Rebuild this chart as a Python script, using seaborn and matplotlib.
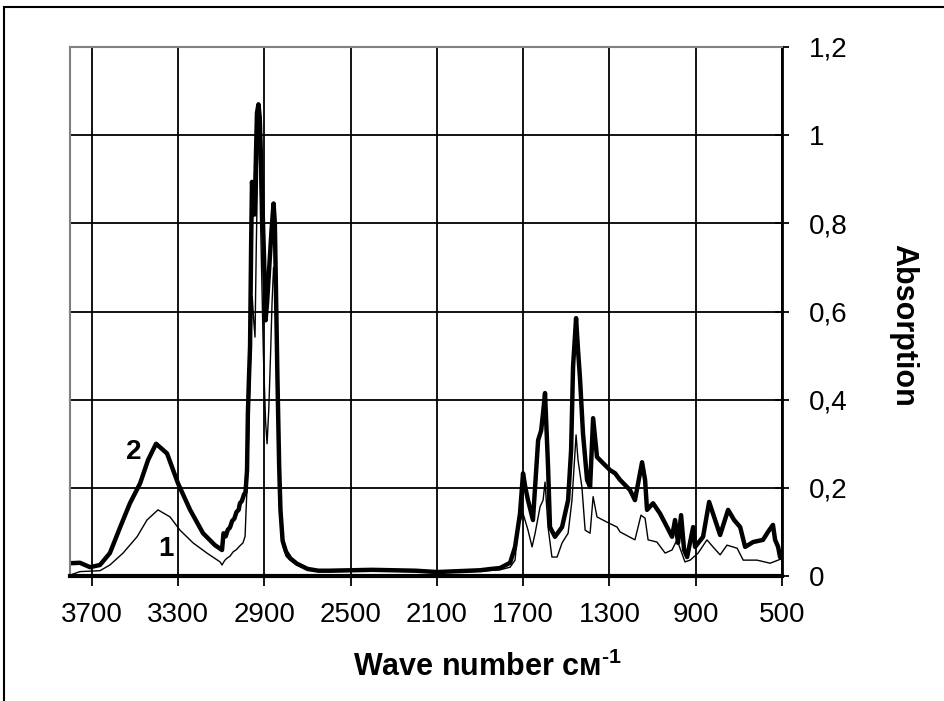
import pandas as pd
import seaborn as sns
import matplotlib.pyplot as plt
from matplotlib.ticker import FuncFormatter
from matplotlib.patches import Rectangle

# curve 2 (thick)
wn2 = [3802, 3756, 3709, 3663, 3617, 3570, 3524, 3477, 3440, 3403, 3352, 3301,
       3245, 3185, 3130, 3097, 3090, 3080, 3070, 3060, 3050, 3040, 3030, 3020,
       3014, 3005, 2995, 2988, 2981, 2977, 2972, 2967, 2962, 2958, 2952, 2946,
       2940, 2935, 2928, 2922, 2912, 2902, 2895, 2888, 2878, 2868, 2858, 2852,
       2846, 2840, 2832, 2826, 2816, 2800, 2780, 2750, 2700, 2650, 2600, 2500,
       2400, 2300, 2200, 2100, 2000, 1900, 1850, 1808, 1761, 1738, 1715, 1701,
       1690, 1678, 1655, 1645, 1631, 1617, 1608, 1599, 1592, 1585, 1576, 1553,
       1520, 1492, 1478, 1469, 1455, 1446, 1437, 1423, 1404, 1390, 1376, 1358,
       1330, 1297, 1274, 1251, 1205, 1182, 1149, 1135, 1126, 1098, 1066, 1033,
       1010, 996, 982, 968, 954, 940, 912, 903, 866, 838, 810, 787, 750, 722,
       694, 671, 634, 588, 565, 542, 532, 518, 509, 500]
ab2 = [0.029, 0.030, 0.020, 0.025, 0.052, 0.110, 0.165, 0.210, 0.263, 0.300,
       0.278, 0.210, 0.150, 0.097, 0.070, 0.059, 0.097, 0.090, 0.105, 0.110,
       0.125, 0.130, 0.145, 0.150, 0.165, 0.170, 0.185, 0.190, 0.240, 0.370,
       0.450, 0.520, 0.750, 0.894, 0.860, 0.820, 0.950, 1.050, 1.070, 1.040,
       0.880, 0.720, 0.580, 0.620, 0.700, 0.780, 0.845, 0.800, 0.620, 0.450,
       0.250, 0.150, 0.080, 0.055, 0.040, 0.028, 0.016, 0.012, 0.012, 0.013,
       0.014, 0.013, 0.012, 0.009, 0.011, 0.013, 0.016, 0.018, 0.030, 0.066,
       0.142, 0.233, 0.200, 0.172, 0.127, 0.202, 0.308, 0.330, 0.370, 0.415,
       0.330, 0.248, 0.111, 0.089, 0.111, 0.172, 0.286, 0.475, 0.585, 0.513,
       0.450, 0.324, 0.218, 0.202, 0.358, 0.270, 0.256, 0.240, 0.233, 0.218,
       0.195, 0.172, 0.258, 0.218, 0.150, 0.165, 0.142, 0.111, 0.089, 0.127,
       0.075, 0.138, 0.059, 0.043, 0.111, 0.066, 0.089, 0.168, 0.127, 0.093,
       0.150, 0.127, 0.111, 0.066, 0.077, 0.082, 0.100, 0.116, 0.082, 0.066,
       0.043, 0.040]

# curve 1 (thin)
wn1 = [3802, 3756, 3663, 3617, 3556, 3491, 3445, 3394, 3338, 3292, 3231, 3167,
       3106, 3097, 3085, 3075, 3060, 3045, 3030, 3015, 3000, 2990, 2986, 2981,
       2977, 2970, 2960, 2957, 2950, 2944, 2938, 2930, 2925, 2918, 2905, 2895,
       2888, 2880, 2872, 2865, 2858, 2852, 2846, 2840, 2832, 2826, 2816, 2800,
       2782, 2750, 2700, 2600, 2500, 2400, 2300, 2200, 2100, 2000, 1900, 1808,
       1761, 1738, 1724, 1701, 1678, 1659, 1645, 1622, 1608, 1599, 1585, 1567,
       1543, 1520, 1492, 1474, 1455, 1446, 1428, 1413, 1390, 1376, 1358, 1311,
       1265, 1251, 1182, 1154, 1135, 1121, 1080, 1042, 1010, 987, 950, 926,
       889, 848, 820, 787, 755, 708, 680, 616, 555, 518, 500]
ab1 = [0.002, 0.010, 0.012, 0.025, 0.052, 0.089, 0.127, 0.150, 0.134, 0.104,
       0.075, 0.052, 0.032, 0.025, 0.035, 0.040, 0.045, 0.055, 0.060, 0.068,
       0.075, 0.090, 0.142, 0.200, 0.256, 0.400, 0.580, 0.633, 0.580, 0.542,
       0.750, 0.980, 1.000, 0.800, 0.500, 0.350, 0.300, 0.380, 0.500, 0.620,
       0.700, 0.650, 0.550, 0.400, 0.220, 0.130, 0.070, 0.045, 0.036, 0.025,
       0.015, 0.010, 0.011, 0.012, 0.011, 0.010, 0.008, 0.009, 0.011, 0.014,
       0.020, 0.036, 0.111, 0.142, 0.104, 0.066, 0.097, 0.157, 0.172, 0.213,
       0.111, 0.043, 0.043, 0.075, 0.097, 0.172, 0.320, 0.263, 0.202, 0.104,
       0.097, 0.180, 0.134, 0.122, 0.111, 0.100, 0.082, 0.138, 0.131, 0.082,
       0.077, 0.052, 0.059, 0.082, 0.032, 0.036, 0.052, 0.082, 0.066, 0.048,
       0.070, 0.063, 0.036, 0.036, 0.029, 0.036, 0.040]

x_ticks = [3700, 3300, 2900, 2500, 2100, 1700, 1300, 900, 500]
y_ticks = [0, 0.2, 0.4, 0.6, 0.8, 1.0, 1.2]

sns.set_style("white")
plt.rcParams['font.family'] = ['Liberation Sans', 'DejaVu Sans']
plt.rcParams['mathtext.fontset'] = 'custom'
plt.rcParams['mathtext.rm'] = 'Liberation Sans:bold'
plt.rcParams['mathtext.bf'] = 'Liberation Sans:bold'
plt.rcParams['text.color'] = 'black'
plt.rcParams['axes.labelcolor'] = 'black'
plt.rcParams['xtick.color'] = 'black'
plt.rcParams['ytick.color'] = 'black'

fig = plt.figure(figsize=(9.45, 7.01), dpi=100)
ax = fig.add_axes([70 / 945, 125 / 701, 712 / 945, 529 / 701])

sns.lineplot(x=wn1, y=ab1, color='black', linewidth=1.0, ax=ax)
sns.lineplot(x=wn2, y=ab2, color='black', linewidth=3.2, ax=ax)

ax.set_xlim(3802, 500)
ax.set_ylim(0, 1.2)
ax.set_xticks(x_ticks)
ax.set_yticks(y_ticks)
ax.yaxis.tick_right()
ax.yaxis.set_label_position('right')
ax.yaxis.set_major_formatter(FuncFormatter(lambda v, p: f"{v:g}".replace('.', ',')))
ax.grid(True, color='black', linewidth=1.3)

ax.tick_params(axis='x', direction='out', length=7, width=1.3, pad=12,
               labelsize=20, bottom=True, colors='black')
ax.tick_params(axis='y', direction='inout', length=10, width=1.3, pad=14,
               labelsize=20, right=True, left=False, colors='black')

for s in ['top', 'left']:
    ax.spines[s].set_color('#808080')
    ax.spines[s].set_linewidth(1.5)
ax.spines['bottom'].set_color('black')
ax.spines['bottom'].set_linewidth(3)
ax.spines['right'].set_color('black')
ax.spines['right'].set_linewidth(2)

ax.set_xlabel('Wave number см$^{\\text{-}1}$', fontsize=22, fontweight='bold',
              color='black')
ax.xaxis.set_label_coords(0.586, -0.143)
ax.set_ylabel('Absorption', fontsize=22, fontweight='bold', rotation=-90,
              va='center', color='black')
ax.yaxis.set_label_coords(1.17, 0.473)

ax.text(3505, 0.281, '2', fontsize=20, fontweight='bold', ha='center', va='center',
        color='black')
ax.text(3357, 0.061, '1', fontsize=20, fontweight='bold', ha='center', va='center',
        color='black')

fig.patches.append(Rectangle((4 / 945, -0.05), 1.0, 1 - 7 / 701 + 0.05,
                             transform=fig.transFigure, fill=False,
                             edgecolor='black', linewidth=1.5))

plt.savefig('out.png', dpi=100)
